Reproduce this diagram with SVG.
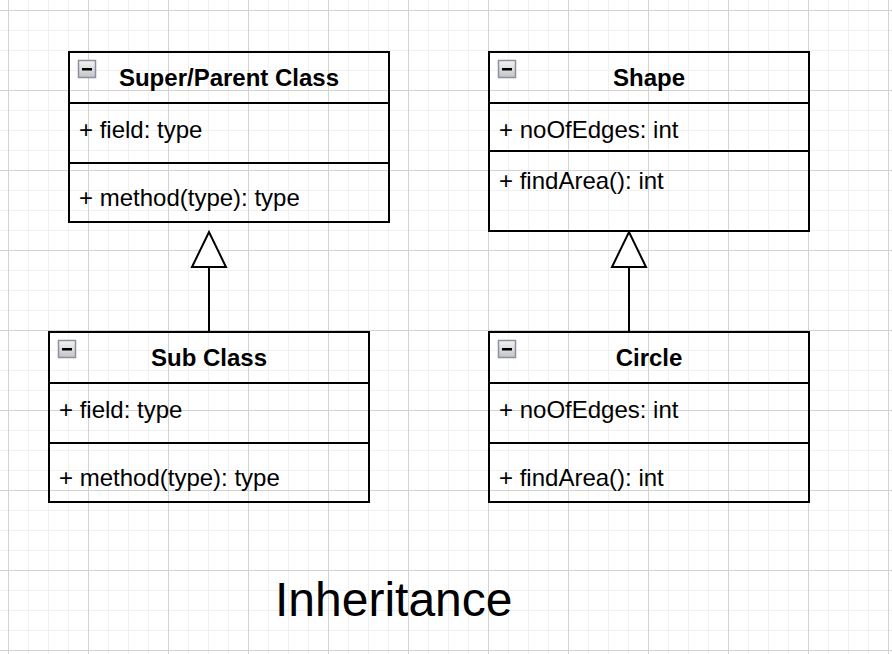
<svg xmlns="http://www.w3.org/2000/svg" width="892" height="654" viewBox="0 0 892 654">
  <defs>
    <pattern id="grid" patternUnits="userSpaceOnUse" x="8" y="10" width="80" height="80">
      <rect x="0" y="0" width="80" height="80" fill="#ffffff"/>
      <rect x="20" y="0" width="1" height="80" fill="#f0f0f0"/>
      <rect x="40" y="0" width="1" height="80" fill="#f0f0f0"/>
      <rect x="60" y="0" width="1" height="80" fill="#f0f0f0"/>
      <rect x="0" y="20" width="80" height="1" fill="#f0f0f0"/>
      <rect x="0" y="40" width="80" height="1" fill="#f0f0f0"/>
      <rect x="0" y="60" width="80" height="1" fill="#f0f0f0"/>
      <rect x="0" y="0" width="1" height="80" fill="#d3d3d3"/>
      <rect x="0" y="0" width="80" height="1" fill="#d3d3d3"/>
    </pattern>
    <linearGradient id="iconGrad" x1="0" y1="0" x2="0" y2="1">
      <stop offset="0" stop-color="#f4f4f4"/>
      <stop offset="1" stop-color="#c4c4c4"/>
    </linearGradient>
    <marker id="inherit" markerUnits="userSpaceOnUse" markerWidth="40" markerHeight="40" viewBox="-2 -3 40 40" refX="35" refY="17" orient="auto" overflow="visible">
      <path d="M0,0 L35,17 L0,34 Z" fill="#ffffff" stroke="#000000" stroke-width="2" stroke-linejoin="miter"/>
    </marker>
    <style>
      .box { fill: none; stroke: #000000; stroke-width: 2; }
      .div { stroke: #000000; stroke-width: 2; }
      .title { font-family: "Liberation Sans", Arial, Helvetica, sans-serif; font-size: 24px; font-weight: bold; fill: #000000; text-anchor: middle; }
      .member { font-family: "Liberation Sans", Arial, Helvetica, sans-serif; font-size: 24px; fill: #000000; }
      .icon { fill: url(#iconGrad); stroke: #8b91a0; stroke-width: 1.5; }
      .bar { fill: #000000; }
      .edge { fill: none; stroke: #000000; stroke-width: 2; }
      .caption { font-family: "Liberation Sans", Arial, Helvetica, sans-serif; font-size: 48px; fill: #000000; }
    </style>
  </defs>

  <rect x="0" y="0" width="892" height="654" fill="url(#grid)"/>

  <g id="connectors">
    <path class="edge" d="M209,331 L209,232" marker-end="url(#inherit)"/>
    <path class="edge" d="M629,331 L629,232" marker-end="url(#inherit)"/>
  </g>

  <g id="super-parent-class">
    <rect class="box" x="69" y="52" width="320" height="170"/>
    <line class="div" x1="69" y1="103" x2="389" y2="103"/>
    <line class="div" x1="69" y1="163" x2="389" y2="163"/>
    <rect class="icon" x="78.5" y="60.5" width="17" height="17"/>
    <rect class="bar" x="82" y="68" width="10" height="2.5"/>
    <text class="title" x="229" y="86">Super/Parent Class</text>
    <text class="member" x="79" y="138">+ field: type</text>
    <text class="member" x="79" y="206">+ method(type): type</text>
  </g>

  <g id="sub-class">
    <rect class="box" x="49" y="332" width="320" height="170"/>
    <line class="div" x1="49" y1="383" x2="369" y2="383"/>
    <line class="div" x1="49" y1="443" x2="369" y2="443"/>
    <rect class="icon" x="58.5" y="340.5" width="17" height="17"/>
    <rect class="bar" x="62" y="348" width="10" height="2.5"/>
    <text class="title" x="209" y="366">Sub Class</text>
    <text class="member" x="59" y="418">+ field: type</text>
    <text class="member" x="59" y="486">+ method(type): type</text>
  </g>

  <g id="shape">
    <rect class="box" x="489" y="52" width="320" height="179"/>
    <line class="div" x1="489" y1="103" x2="809" y2="103"/>
    <line class="div" x1="489" y1="151" x2="809" y2="151"/>
    <rect class="icon" x="498.5" y="60.5" width="17" height="17"/>
    <rect class="bar" x="502" y="68" width="10" height="2.5"/>
    <text class="title" x="649" y="86">Shape</text>
    <text class="member" x="499" y="138">+ noOfEdges: int</text>
    <text class="member" x="499" y="189">+ findArea(): int</text>
  </g>

  <g id="circle">
    <rect class="box" x="489" y="332" width="320" height="170"/>
    <line class="div" x1="489" y1="383" x2="809" y2="383"/>
    <line class="div" x1="489" y1="443" x2="809" y2="443"/>
    <rect class="icon" x="498.5" y="340.5" width="17" height="17"/>
    <rect class="bar" x="502" y="348" width="10" height="2.5"/>
    <text class="title" x="649" y="366">Circle</text>
    <text class="member" x="499" y="418">+ noOfEdges: int</text>
    <text class="member" x="499" y="486">+ findArea(): int</text>
  </g>

  <g id="caption">
    <text class="caption" x="275" y="616">Inheritance</text>
  </g>
</svg>
